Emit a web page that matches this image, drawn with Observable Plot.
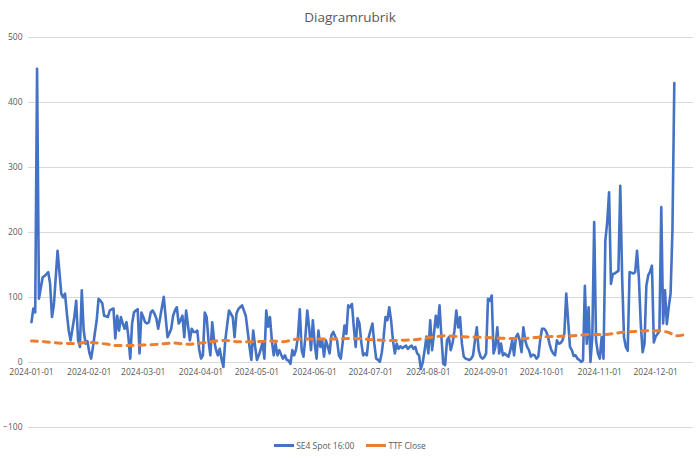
<!DOCTYPE html>
<html>
<head>
<meta charset="utf-8">
<script src="https://cdn.jsdelivr.net/npm/d3@7"></script>
<script src="https://cdn.jsdelivr.net/npm/@observablehq/plot@0.6"></script>
<style>
  html, body { margin: 0; padding: 0; background: #fff; }
  body { width: 700px; height: 458px; overflow: hidden; font-family: "Open Sans", "Liberation Sans", sans-serif; }
  #title { height: 30px; line-height: 34px; text-align: center; font-size: 13.5px; color: #595959; }
  #legend { display: flex; justify-content: center; align-items: center; gap: 12px; font-size: 8.5px; color: #595959; height: 20px; margin-top: 0px; }
  .item { display: flex; align-items: center; gap: 2px; }
  .sw { width: 20px; height: 3px; }
</style>
</head>
<body>
<div id="title">Diagramrubrik</div>
<div id="chart"></div>
<div id="legend"></div>
<script>
const seriesNames = ["SE4 Spot 16:00", "TTF Close"];
const seriesColors = ["#4472C4", "#ED7D31"];
const yTicks = [-100, 0, 100, 200, 300, 400, 500];
const xTickLabels = ["2024-01-01","2024-02-01","2024-03-01","2024-04-01","2024-05-01","2024-06-01","2024-07-01","2024-08-01","2024-09-01","2024-10-01","2024-11-01","2024-12-01"];

const spotDates = [
"2024-01-01","2024-01-02","2024-01-03","2024-01-04","2024-01-05","2024-01-07","2024-01-08","2024-01-09","2024-01-10","2024-01-11","2024-01-12","2024-01-13","2024-01-15","2024-01-17","2024-01-18","2024-01-19","2024-01-20","2024-01-21","2024-01-22","2024-01-23","2024-01-24","2024-01-25","2024-01-26","2024-01-27","2024-01-28","2024-01-29","2024-01-30","2024-01-31",
"2024-02-01","2024-02-02","2024-02-03","2024-02-04","2024-02-05","2024-02-06","2024-02-07","2024-02-08","2024-02-09","2024-02-10","2024-02-11","2024-02-12","2024-02-13","2024-02-14","2024-02-15","2024-02-16","2024-02-17","2024-02-18","2024-02-19","2024-02-20","2024-02-21","2024-02-22","2024-02-23","2024-02-24","2024-02-25","2024-02-26","2024-02-27","2024-02-28","2024-02-29",
"2024-03-01","2024-03-02","2024-03-03","2024-03-04","2024-03-05","2024-03-06","2024-03-07","2024-03-08","2024-03-09","2024-03-10","2024-03-11","2024-03-12","2024-03-13","2024-03-14","2024-03-15","2024-03-16","2024-03-17","2024-03-18","2024-03-19","2024-03-20","2024-03-21","2024-03-22","2024-03-23","2024-03-24","2024-03-25","2024-03-26","2024-03-27","2024-03-28","2024-03-29","2024-03-30","2024-03-31",
"2024-04-01","2024-04-02","2024-04-03","2024-04-04","2024-04-05","2024-04-06","2024-04-07","2024-04-08","2024-04-09","2024-04-10","2024-04-11","2024-04-12","2024-04-13","2024-04-14","2024-04-15","2024-04-16","2024-04-17","2024-04-18","2024-04-19","2024-04-20","2024-04-21","2024-04-22","2024-04-23","2024-04-24","2024-04-25","2024-04-26","2024-04-27","2024-04-28","2024-04-29","2024-04-30",
"2024-05-01","2024-05-02","2024-05-03","2024-05-04","2024-05-05","2024-05-06","2024-05-07","2024-05-08","2024-05-09","2024-05-10","2024-05-11","2024-05-12","2024-05-13","2024-05-14","2024-05-15","2024-05-16","2024-05-17","2024-05-18","2024-05-19","2024-05-20","2024-05-21","2024-05-22","2024-05-23","2024-05-24","2024-05-25","2024-05-26","2024-05-27","2024-05-28","2024-05-29","2024-05-30","2024-05-31",
"2024-06-01","2024-06-02","2024-06-03","2024-06-04","2024-06-05","2024-06-06","2024-06-07","2024-06-08","2024-06-09","2024-06-10","2024-06-11","2024-06-12","2024-06-13","2024-06-14","2024-06-15","2024-06-16","2024-06-17","2024-06-18","2024-06-19","2024-06-20","2024-06-21","2024-06-22","2024-06-23","2024-06-24","2024-06-25","2024-06-26","2024-06-27","2024-06-28","2024-06-29","2024-06-30",
"2024-07-01","2024-07-02","2024-07-03","2024-07-04","2024-07-05","2024-07-06","2024-07-07","2024-07-08","2024-07-09","2024-07-10","2024-07-11","2024-07-12","2024-07-13","2024-07-14","2024-07-15","2024-07-16","2024-07-17","2024-07-18","2024-07-19","2024-07-20","2024-07-21","2024-07-22","2024-07-23","2024-07-24","2024-07-25","2024-07-26","2024-07-27","2024-07-28","2024-07-29","2024-07-30","2024-07-31",
"2024-08-01","2024-08-02","2024-08-03","2024-08-04","2024-08-05","2024-08-06","2024-08-07","2024-08-08","2024-08-09","2024-08-10","2024-08-11","2024-08-12","2024-08-13","2024-08-14","2024-08-15","2024-08-16","2024-08-17","2024-08-18","2024-08-19","2024-08-20","2024-08-21","2024-08-22","2024-08-23","2024-08-24","2024-08-25","2024-08-26","2024-08-27","2024-08-28","2024-08-29","2024-08-30","2024-08-31",
"2024-09-01","2024-09-02","2024-09-03","2024-09-04","2024-09-05","2024-09-06","2024-09-07","2024-09-08","2024-09-09","2024-09-10","2024-09-11","2024-09-12","2024-09-13","2024-09-14","2024-09-15","2024-09-16","2024-09-17","2024-09-18","2024-09-19","2024-09-20","2024-09-21","2024-09-22","2024-09-23","2024-09-24","2024-09-25","2024-09-26","2024-09-27","2024-09-28","2024-09-29","2024-09-30",
"2024-10-01","2024-10-02","2024-10-03","2024-10-04","2024-10-05","2024-10-06","2024-10-07","2024-10-08","2024-10-09","2024-10-10","2024-10-11","2024-10-12","2024-10-13","2024-10-14","2024-10-15","2024-10-16","2024-10-17","2024-10-18","2024-10-19","2024-10-20","2024-10-21","2024-10-22","2024-10-23","2024-10-24","2024-10-25","2024-10-26","2024-10-27","2024-10-28","2024-10-29","2024-10-30","2024-10-31",
"2024-11-01","2024-11-02","2024-11-03","2024-11-04","2024-11-05","2024-11-06","2024-11-07","2024-11-08","2024-11-09","2024-11-10","2024-11-11","2024-11-12","2024-11-13","2024-11-14","2024-11-15","2024-11-16","2024-11-17","2024-11-18","2024-11-19","2024-11-20","2024-11-21","2024-11-22","2024-11-23","2024-11-24","2024-11-25","2024-11-26","2024-11-27","2024-11-28","2024-11-29","2024-11-30",
"2024-12-01","2024-12-03","2024-12-04","2024-12-05","2024-12-06","2024-12-07","2024-12-08","2024-12-09","2024-12-10","2024-12-11"
];
const spotValues = [
62,83,77,452,98,131,133,136,139,121,70,88,172,106,100,106,75,49,34,52,70,95,34,24,111,50,29,33,
16,6,24,45,65,98,95,91,72,71,70,80,82,83,37,72,49,70,60,52,62,40,6,60,77,80,82,14,77,
70,62,60,62,77,80,75,68,52,68,85,101,70,39,45,52,72,80,85,60,65,72,39,80,57,34,52,47,47,49,20,
6,11,77,70,34,11,62,34,20,11,21,5,-7,34,57,80,75,70,39,75,82,85,88,80,72,49,25,4,49,25,
4,11,20,31,6,80,55,70,34,11,29,11,19,12,6,11,4,3,-2,19,11,20,39,82,19,9,39,80,54,19,65,
29,6,49,24,34,9,34,25,14,42,47,40,34,11,6,30,57,44,88,85,90,54,24,68,60,31,11,14,11,39,
50,60,29,6,4,1,15,39,70,65,85,65,34,14,29,21,25,22,24,26,21,24,26,21,24,14,11,-10,0,19,40,
14,65,19,44,72,54,88,40,-2,-4,34,39,19,30,49,80,54,70,29,9,6,5,4,6,11,34,54,19,9,6,8,
14,98,95,103,14,24,54,14,29,11,14,11,9,19,34,11,39,44,34,16,54,34,24,19,9,12,11,6,9,34,
52,52,49,42,29,19,14,11,34,29,30,34,45,106,65,24,19,10,11,6,4,1,3,118,29,85,1,39,216,34,14,
6,39,6,188,216,262,121,136,137,139,141,272,131,39,24,18,139,138,137,139,172,129,59,16,29,118,134,140,149,31,
40,48,239,60,111,59,85,106,203,430
];

const ttfDates = ["2024-01-01","2024-01-08","2024-01-15","2024-01-26","2024-01-30","2024-02-11","2024-02-15","2024-02-20","2024-03-02","2024-03-09","2024-03-17","2024-03-25","2024-04-01","2024-04-14","2024-04-21","2024-04-29","2024-05-09","2024-05-15","2024-05-23","2024-06-01","2024-06-10","2024-06-19","2024-06-28","2024-07-09","2024-07-14","2024-07-24","2024-08-01","2024-08-10","2024-08-17","2024-08-26","2024-09-04","2024-09-13","2024-09-21","2024-09-29","2024-10-08","2024-10-17","2024-10-26","2024-11-03","2024-11-12","2024-11-21","2024-12-02","2024-12-09","2024-12-12","2024-12-17"];
const ttfValues = [33,32,30,29,31,28,26,26,27,28,30,28,30,34,32,32,33,32,36,36,36,37,36,34,34,35,38,41,40,39,38,37,37,39,40,41,43,43,46,48,49,45,41,43];

const spot = spotDates.map((d, i) => ({date: new Date(d), value: spotValues[i]}));
const ttf = ttfDates.map((d, i) => ({date: new Date(d), value: ttfValues[i]}));
const xTicks = xTickLabels.map(d => ({date: new Date(d), label: d}));

const chart = Plot.plot({
  width: 700,
  height: 405,
  marginTop: 7,
  marginBottom: 8,
  marginLeft: 28,
  marginRight: 7,
  style: {fontFamily: "'Open Sans', 'Liberation Sans', sans-serif", background: "#fff"},
  x: {type: "utc", domain: [new Date("2023-12-30T09:36:00Z"), new Date("2024-12-21T07:12:00Z")], axis: null},
  y: {domain: [-100, 500], axis: null},
  marks: [
    Plot.gridY(yTicks, {stroke: "#d9d9d9", strokeOpacity: 1, strokeWidth: 1}),
    Plot.axisY(yTicks, {tickSize: 0, tickPadding: 6, fontSize: 8.5, fill: "#595959", label: null}),
    Plot.text(xTicks, {x: "date", y: () => 0, dy: 10, text: "label", fontSize: 8.5, fill: "#595959"}),
    Plot.line(spot, {x: "date", y: "value", stroke: seriesColors[0], strokeWidth: 2.6, strokeLinejoin: "round"}),
    Plot.line(ttf, {x: "date", y: "value", stroke: seriesColors[1], strokeWidth: 3, strokeDasharray: "6,6", strokeLinecap: "round", curve: "monotone-x"})
  ]
});
document.getElementById("chart").appendChild(chart);

const legend = document.getElementById("legend");
seriesNames.forEach((name, i) => {
  const item = document.createElement("div");
  item.className = "item";
  const sw = document.createElement("div");
  sw.className = "sw";
  sw.style.background = seriesColors[i];
  const t = document.createElement("span");
  t.textContent = name;
  item.appendChild(sw);
  item.appendChild(t);
  legend.appendChild(item);
});
</script>
</body>
</html>
